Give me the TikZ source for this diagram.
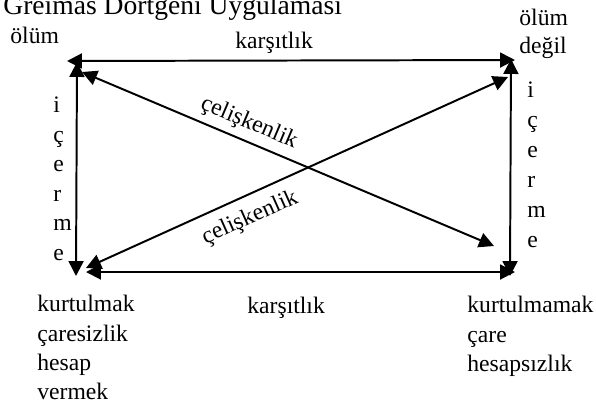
\documentclass[tikz,border=0pt]{standalone}
\usepackage{fontspec}
\setmainfont{Liberation Serif}
\usetikzlibrary{arrows.meta}
\newlength{\du}
\setlength{\du}{0.5076pt}
\tikzset{
  ciftok/.style={line width=1pt, {Triangle[length=7.6pt,width=7.6pt]}-{Triangle[length=7.6pt,width=7.6pt]}},
  yazi/.style={anchor=base west, inner sep=0pt, font=\fontsize{12pt}{15pt}\selectfont},
  baslik/.style={anchor=base west, inner sep=0pt, font=\fontsize{14pt}{17pt}\selectfont},
  egik/.style={anchor=center, inner sep=0pt, font=\fontsize{12pt}{15pt}\selectfont},
}

\begin{document}
\begin{tikzpicture}
\pgftransformxscale{1.000000}
\pgftransformyscale{-1.000000}
\definecolor{dialinecolor}{rgb}{0.000000, 0.000000, 0.000000}
\pgfsetstrokecolor{dialinecolor}
\pgfsetfillcolor{dialinecolor}
\useasboundingbox (0\du,0\du) rectangle (596\du,408\du);
% baslik
\node[baslik] (baslik) at (3\du,14\du){Greimas Dörtgeni Uygulaması};
% koseler
\node[yazi] (olum) at (10\du,43\du){ölüm};
\node[yazi] (olumdegil1) at (519\du,25\du){ölüm};
\node[yazi] (olumdegil2) at (519\du,53\du){değil};
\node[yazi] (kurtulmak1) at (37\du,311\du){kurtulmak};
\node[yazi] (kurtulmak2) at (37\du,341\du){çaresizlik};
\node[yazi] (kurtulmak3) at (37\du,370\du){hesap};
\node[yazi] (kurtulmak4) at (37\du,399\du){vermek};
\node[yazi] (kurtulmamak1) at (467\du,312\du){kurtulmamak};
\node[yazi] (kurtulmamak2) at (467\du,342\du){çare};
\node[yazi] (kurtulmamak3) at (467\du,371\du){hesapsızlık};
% ok uclari
\coordinate (ustsol) at (67\du,61\du);
\coordinate (ustsag) at (515\du,60\du);
\coordinate (solust) at (77\du,62\du);
\coordinate (solalt) at (76\du,276\du);
\coordinate (sagust) at (511\du,59\du);
\coordinate (sagalt) at (510\du,276\du);
\coordinate (altsol) at (86\du,272\du);
\coordinate (altsag) at (515\du,272\du);
\coordinate (capraz1a) at (82\du,72\du);
\coordinate (capraz1b) at (494\du,246\du);
\coordinate (capraz2a) at (86\du,268\du);
\coordinate (capraz2b) at (508\du,77\du);
% oklar
\draw[ciftok] (ustsol)--(ustsag);
\draw[ciftok] (altsol)--(altsag);
\draw[ciftok] (solust)--(solalt);
\draw[ciftok] (sagust)--(sagalt);
\draw[ciftok] (capraz1a)--(capraz1b);
\draw[ciftok] (capraz2a)--(capraz2b);
% etiketler
\node[yazi] (karsitlikust) at (235\du,48\du){karşıtlık};
\node[yazi] (karsitlikalt) at (247\du,313\du){karşıtlık};
\node[egik, rotate=-23] (celiskenlik1) at (249\du,123\du){çelişkenlik};
\node[egik, rotate=24] (celiskenlik2) at (250\du,218\du){çelişkenlik};
\node[yazi] (solicerme1) at (53\du,112\du){i};
\node[yazi] (solicerme2) at (53\du,142\du){ç};
\node[yazi] (solicerme3) at (53\du,171\du){e};
\node[yazi] (solicerme4) at (53\du,201\du){r};
\node[yazi] (solicerme5) at (53\du,230\du){m};
\node[yazi] (solicerme6) at (53\du,260\du){e};
\node[yazi] (sagicerme1) at (527\du,97\du){i};
\node[yazi] (sagicerme2) at (527\du,127\du){ç};
\node[yazi] (sagicerme3) at (527\du,157\du){e};
\node[yazi] (sagicerme4) at (527\du,187\du){r};
\node[yazi] (sagicerme5) at (527\du,217\du){m};
\node[yazi] (sagicerme6) at (527\du,247\du){e};
\end{tikzpicture}
\end{document}
